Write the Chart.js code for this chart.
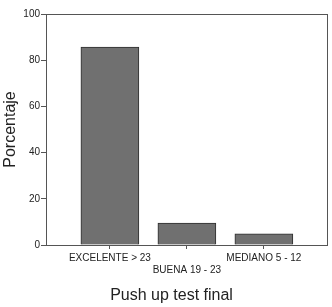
<!DOCTYPE html>
<html>
<head>
<meta charset="utf-8">
<script src="https://cdn.jsdelivr.net/npm/chart.js@4"></script>
<style>
  html, body { margin: 0; padding: 0; background: #fff; }
  #wrap { width: 332px; height: 307px; }
</style>
</head>
<body>
<div id="wrap"><canvas id="pushChart" width="332" height="307"></canvas></div>
<script>
// data
const categories = [['EXCELENTE > 23'], ['', 'BUENA 19 - 23'], ['MEDIANO 5 - 12']];
const positions = [1, 2, 3];
const percentages = [85.7, 9.5, 4.8];
const yTicks = [0, 20, 40, 60, 80, 100];

const axisColor = '#555555';
const textColor = '#222222';

// box round the plot area, and nudge the bottom title a bit to the right
const frame = {
    id: 'frame',
    afterLayout(chart) {
        if (chart.titleBlock) {
            chart.titleBlock.left = 16;
        }
    },
    afterDraw(chart) {
        const a = chart.chartArea;
        const ctx = chart.ctx;
        ctx.save();
        ctx.strokeStyle = axisColor;
        ctx.lineWidth = 1;
        ctx.strokeRect(Math.round(a.left) + 0.5, Math.round(a.top) + 0.5,
            Math.round(a.right - a.left), Math.round(a.bottom - a.top));
        ctx.restore();
    }
};

const ctx = document.getElementById('pushChart').getContext('2d');
new Chart(ctx, {
    type: 'bar',
    data: {
        datasets: [{
            data: positions.map((x, i) => ({ x: x, y: percentages[i] })),
            backgroundColor: '#707070',
            borderColor: '#2e2e2e',
            borderWidth: 1,
            borderSkipped: 'bottom',
            barThickness: 58
        }]
    },
    options: {
        responsive: false,
        animation: false,
        layout: { padding: { top: 14, right: 5, left: 0, bottom: 0 } },
        scales: {
            x: {
                type: 'linear',
                offset: false,
                min: 0.17,
                max: 3.82,
                afterBuildTicks: (scale) => {
                    scale.ticks = positions.map(v => ({ value: v }));
                },
                afterFit: (scale) => { scale.height = 40.8; },
                ticks: {
                    color: textColor,
                    font: { family: 'Liberation Sans, Arial', size: 10 },
                    lineHeight: 1.4,
                    padding: 3,
                    maxRotation: 0,
                    autoSkip: false,
                    callback: (value) => categories[positions.indexOf(value)]
                },
                grid: { offset: false, drawOnChartArea: false, tickLength: 4, color: axisColor },
                border: { display: false }
            },
            y: {
                min: 0,
                max: 100,
                afterBuildTicks: (scale) => {
                    scale.ticks = yTicks.map(v => ({ value: v }));
                },
                afterFit: (scale) => { scale.width = 46; },
                ticks: {
                    color: textColor,
                    font: { family: 'Liberation Sans, Arial', size: 10 },
                    padding: 1
                },
                grid: { drawOnChartArea: false, tickLength: 5, color: axisColor },
                border: { display: false },
                title: {
                    display: true,
                    text: 'Porcentaje',
                    color: textColor,
                    font: { family: 'Liberation Sans, Arial', size: 16 },
                    padding: { top: 1, bottom: 0 }
                }
            }
        },
        plugins: {
            legend: { display: false },
            tooltip: { enabled: false },
            title: {
                display: true,
                position: 'bottom',
                text: 'Push up test final',
                color: textColor,
                font: { family: 'Liberation Sans, Arial', size: 16, weight: 'normal' },
                padding: { top: 0, bottom: 2 }
            }
        }
    },
    plugins: [frame]
});
</script>
</body>
</html>
